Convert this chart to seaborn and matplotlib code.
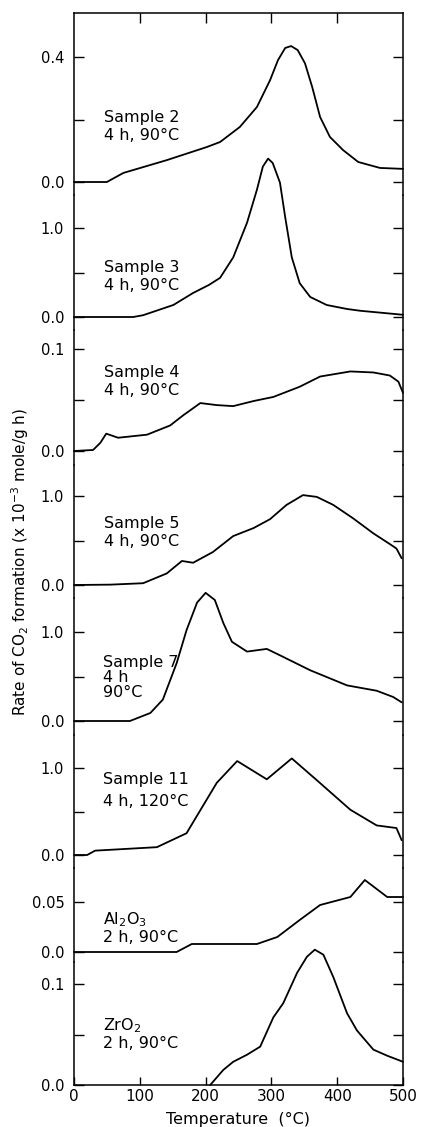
import pandas as pd
import seaborn as sns
import matplotlib.pyplot as plt

# temperatures (deg C) and CO2 formation rates, one pair per sample
s2_temp = [0, 50, 75, 141, 202, 222, 252, 278, 298, 310, 321, 330, 340, 351, 362, 374, 389, 409, 432, 465, 500]
s2_rate = [0, 0, 0.029, 0.070, 0.112, 0.128, 0.176, 0.24, 0.326, 0.39, 0.429, 0.435, 0.422, 0.38, 0.304,
           0.208, 0.144, 0.102, 0.064, 0.045, 0.042]

s3_temp = [0, 90, 105, 151, 181, 205, 222, 242, 263, 278, 287, 295, 302, 313, 321, 331, 343, 359, 384, 415, 435, 500]
s3_rate = [0, 0, 0.02, 0.135, 0.27, 0.36, 0.44, 0.67, 1.06, 1.43, 1.69, 1.78, 1.73, 1.51, 1.12, 0.67, 0.38,
           0.225, 0.135, 0.09, 0.07, 0.025]

s4_temp = [0, 29, 40, 49, 67, 111, 146, 166, 192, 217, 242, 273, 303, 343, 374, 420, 455, 480, 493, 500]
s4_rate = [0, 0.001, 0.008, 0.017, 0.013, 0.016, 0.025, 0.035, 0.047, 0.045, 0.044, 0.049, 0.053, 0.063,
           0.073, 0.078, 0.077, 0.074, 0.068, 0.057]

s5_temp = [0, 55, 105, 141, 164, 181, 211, 242, 273, 298, 323, 348, 369, 394, 424, 455, 480, 490, 498]
s5_rate = [0, 0.004, 0.02, 0.13, 0.27, 0.25, 0.37, 0.55, 0.64, 0.74, 0.90, 1.01, 0.99, 0.90, 0.75, 0.58,
           0.46, 0.41, 0.30]

s7_temp = [0, 85, 116, 135, 156, 171, 187, 200, 214, 227, 240, 263, 293, 318, 359, 415, 460, 485, 498]
s7_rate = [0, 0, 0.09, 0.24, 0.65, 1.02, 1.33, 1.44, 1.36, 1.10, 0.89, 0.78, 0.81, 0.72, 0.57, 0.40, 0.34,
           0.27, 0.21]

s11_temp = [0, 20, 32, 126, 171, 217, 248, 293, 331, 369, 420, 460, 490, 498]
s11_rate = [0, 0, 0.05, 0.09, 0.25, 0.83, 1.08, 0.87, 1.11, 0.86, 0.52, 0.34, 0.31, 0.17]

al_temp = [0, 156, 179, 278, 309, 343, 374, 420, 442, 476, 500]
al_rate = [0, 0, 0.008, 0.008, 0.015, 0.032, 0.047, 0.055, 0.072, 0.055, 0.055]

zr_temp = [207, 227, 242, 263, 283, 303, 318, 339, 354, 366, 379, 394, 415, 430, 455, 476, 500]
zr_rate = [0, 0.015, 0.023, 0.030, 0.038, 0.067, 0.081, 0.111, 0.127, 0.134, 0.129, 0.107, 0.071, 0.054,
           0.035, 0.029, 0.023]

names = ['Sample 2\n4 h, 90°C', 'Sample 3\n4 h, 90°C', 'Sample 4\n4 h, 90°C',
         'Sample 5\n4 h, 90°C', 'Sample 7\n4 h\n90°C', 'Sample 11\n4 h, 120°C',
         'Al$_2$O$_3$\n2 h, 90°C', 'ZrO$_2$\n2 h, 90°C']
temps = [s2_temp, s3_temp, s4_temp, s5_temp, s7_temp, s11_temp, al_temp, zr_temp]
rates = [s2_rate, s3_rate, s4_rate, s5_rate, s7_rate, s11_rate, al_rate, zr_rate]

ytick_vals = [[0, 0.2, 0.4], [0, 0.5, 1.0], [0, 0.05, 0.1], [0, 0.5, 1.0],
              [0, 0.5, 1.0], [0, 0.5, 1.0], [0, 0.05], [0, 0.05, 0.1]]
ytick_labels = [['0.0', '', '0.4'], ['0.0', '', '1.0'], ['0.0', '', '0.1'], ['0.0', '', '1.0'],
                ['0.0', '', '1.0'], ['0.0', '', '1.0'], ['0.0', '0.05'], ['0.0', '', '0.1']]

# layout in pixels: panel edges, zero line, pixels per unit, label corner
W, H = 421, 1127
edges = [13, 195, 330, 465, 598, 735, 868, 962, 1085]
zero_px = [182, 317, 451, 585, 721, 855, 952, 1085]
px_per_unit = [312.5, 89, 1020, 89, 89, 87, 1000, 1010]
label_xy = [(104, 110), (104, 260), (104, 365), (104, 516), (103, 655), (103, 772), (103, 910), (103, 1016)]
label_spacing = [1.25, 1.25, 1.25, 1.25, 1.0, 1.6, 1.15, 1.15]

sns.set_style('ticks')
plt.rcParams['font.family'] = ['DejaVu Sans']
plt.rcParams['axes.linewidth'] = 1.1
for key in ['text.color', 'axes.labelcolor', 'xtick.color', 'ytick.color', 'axes.edgecolor']:
    plt.rcParams[key] = 'black'

fig = plt.figure(figsize=(W / 100, H / 100), dpi=100)
n = len(names)
for i in range(n):
    top, bot = edges[i], edges[i + 1]
    ax = fig.add_axes([74 / W, 1 - bot / H, 329 / W, (bot - top) / H])
    ax.set_facecolor('none')
    df = pd.DataFrame({'temp': temps[i], 'rate': rates[i]})
    sns.lineplot(data=df, x='temp', y='rate', ax=ax, color='black', lw=1.3,
                 estimator=None, sort=False, clip_on=False)
    ax.set_xlim(0, 500)
    z, s = zero_px[i], px_per_unit[i]
    ax.set_ylim((z - bot) / s, (z - top) / s)
    ax.set_yticks(ytick_vals[i])
    ax.set_yticklabels(ytick_labels[i])
    ax.tick_params(axis='y', direction='in', length=7, width=1, left=True, right=True,
                   labelsize=10.5, pad=7)
    ax.set_xlabel('')
    ax.set_ylabel('')
    ax.spines['top'].set_visible(i == 0)
    ax.spines['bottom'].set_visible(i == n - 1)
    if i == 0:
        ax.xaxis.set_ticks_position('top')
        ax.set_xticks([100, 200, 300, 400])
        ax.tick_params(axis='x', direction='in', length=7, width=1, labeltop=False, labelbottom=False)
    elif i == n - 1:
        ax.set_xticks([0, 100, 200, 300, 400, 500])
        ax.tick_params(axis='x', direction='in', length=6, width=1, labelsize=11, pad=3)
    else:
        ax.set_xticks([])
    lx, ly = label_xy[i]
    fig.text(lx / W, 1 - ly / H, names[i], ha='left', va='top', fontsize=11.5,
             linespacing=label_spacing[i])

fig.text(20 / W, 1 - 562 / H, 'Rate of CO$_2$ formation (x 10$^{-3}$ mole/g h)',
         rotation=90, ha='center', va='center', fontsize=11)
fig.text(238 / W, 1 - 1119 / H, 'Temperature  (°C)', ha='center', va='center', fontsize=11.5)

fig.savefig('out.png', dpi=100, facecolor='white')
